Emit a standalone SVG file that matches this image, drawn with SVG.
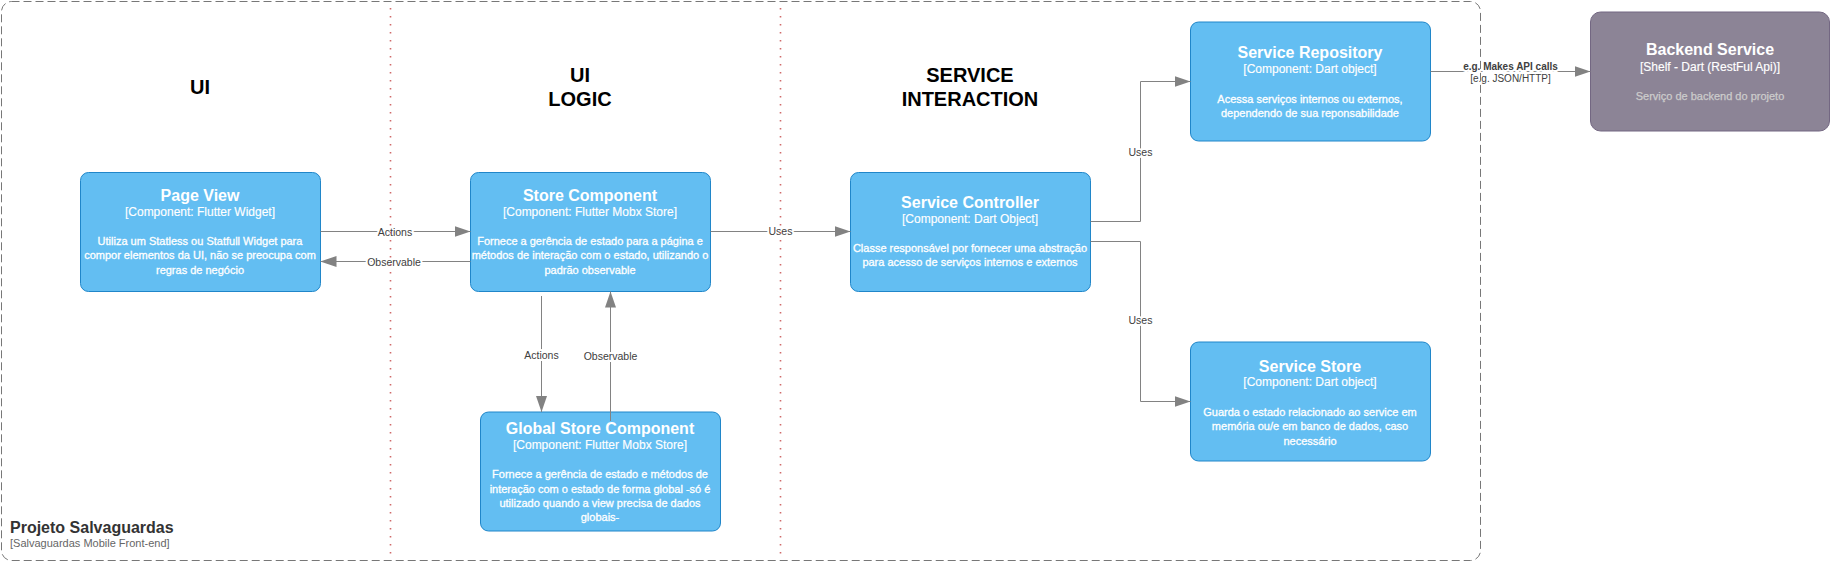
<svg xmlns="http://www.w3.org/2000/svg" width="1831" height="564" viewBox="0 0 1831 564">
<style>
text{font-family:"Liberation Sans",Arial,Helvetica,sans-serif}
.box{fill:#63BEF2;stroke:#2086C9;stroke-width:1}
.ext{fill:#8C8496;stroke:#736782;stroke-width:1}
.t{font-size:16px;font-weight:bold;fill:#fff;text-anchor:middle}
.s{font-size:12px;fill:#fff;text-anchor:middle;stroke:#fff;stroke-width:0.15}
.d{font-size:11px;fill:#fff;text-anchor:middle;stroke:#fff;stroke-width:0.3}
.dx{font-size:11px;fill:#cccccc;text-anchor:middle;stroke:#cccccc;stroke-width:0.25}
.h{font-size:20px;font-weight:bold;fill:#000;text-anchor:middle}
.ln{fill:none;stroke:#828282;stroke-width:1}
.lb{font-size:10.5px;fill:#404040;text-anchor:middle;paint-order:stroke;stroke:#fff;stroke-width:4;stroke-linejoin:round}
.lbb{font-size:10px;font-weight:bold;fill:#404040;text-anchor:middle;paint-order:stroke;stroke:#fff;stroke-width:4;stroke-linejoin:round}
.lbs{font-size:10px;fill:#404040;text-anchor:middle;paint-order:stroke;stroke:#fff;stroke-width:4;stroke-linejoin:round}
.div{stroke:#d06a6a;stroke-width:1.6;stroke-dasharray:1.6 6.4;fill:none}
.bnd{fill:none;stroke:#777;stroke-width:1;stroke-dasharray:8 4}
</style>
<defs>
<marker id="arr" markerUnits="userSpaceOnUse" markerWidth="16" markerHeight="11" refX="16" refY="5.5" orient="auto"><path d="M0,0 L16,5.5 L0,11 z" fill="#828282"/></marker>
</defs>
<rect width="1831" height="564" fill="#fff"/>

<g id="headers">
<text class="h" x="200" y="94">UI</text>
<text class="h" x="580" y="81.5">UI</text>
<text class="h" x="580" y="105.8">LOGIC</text>
<text class="h" x="970" y="81.5">SERVICE</text>
<text class="h" x="970" y="105.8">INTERACTION</text>
</g>

<g id="page-view">
<rect class="box" x="80.5" y="172.5" width="240" height="119" rx="8"/>
<text class="t" x="200" y="201">Page View</text>
<text class="s" x="200" y="216">[Component: Flutter Widget]</text>
<text class="d" x="200" y="245">Utiliza um Statless ou Statfull Widget para</text>
<text class="d" x="200" y="259">compor elementos da UI, não se preocupa com</text>
<text class="d" x="200" y="273.5">regras de negócio</text>
</g>

<g id="store-component">
<rect class="box" x="470.5" y="172.5" width="240" height="119" rx="8"/>
<text class="t" x="590" y="201">Store Component</text>
<text class="s" x="590" y="216">[Component: Flutter Mobx Store]</text>
<text class="d" x="590" y="245">Fornece a gerência de estado para a página e</text>
<text class="d" x="590" y="259">métodos de interação com o estado, utilizando o</text>
<text class="d" x="590" y="273.5">padrão observable</text>
</g>

<g id="global-store-component">
<rect class="box" x="480.5" y="412" width="240" height="119" rx="8"/>
<text class="t" x="600" y="434">Global Store Component</text>
<text class="s" x="600" y="449">[Component: Flutter Mobx Store]</text>
<text class="d" x="600" y="478">Fornece a gerência de estado e métodos de</text>
<text class="d" x="600" y="492.5">interação com o estado de forma global -só é</text>
<text class="d" x="600" y="506.5">utilizado quando a view precisa de dados</text>
<text class="d" x="600" y="521">globais-</text>
</g>

<g id="service-controller">
<rect class="box" x="850.5" y="172.5" width="240" height="119" rx="8"/>
<text class="t" x="970" y="208">Service Controller</text>
<text class="s" x="970" y="223">[Component: Dart Object]</text>
<text class="d" x="970" y="252">Classe responsável por fornecer uma abstração</text>
<text class="d" x="970" y="266">para acesso de serviços internos e externos</text>
</g>

<g id="service-repository">
<rect class="box" x="1190.5" y="22" width="240" height="119" rx="8"/>
<text class="t" x="1310" y="58">Service Repository</text>
<text class="s" x="1310" y="73">[Component: Dart object]</text>
<text class="d" x="1310" y="102.5">Acessa serviços internos ou externos,</text>
<text class="d" x="1310" y="116.5">dependendo de sua reponsabilidade</text>
</g>

<g id="service-store">
<rect class="box" x="1190.5" y="342" width="240" height="119" rx="8"/>
<text class="t" x="1310" y="371.5">Service Store</text>
<text class="s" x="1310" y="386">[Component: Dart object]</text>
<text class="d" x="1310" y="415.5">Guarda o estado relacionado ao service em</text>
<text class="d" x="1310" y="430">memória ou/e em banco de dados, caso</text>
<text class="d" x="1310" y="444.5">necessário</text>
</g>

<g id="backend-service">
<rect class="ext" x="1590.5" y="12" width="239" height="119" rx="10"/>
<text class="t" x="1710" y="55">Backend Service</text>
<text class="s" x="1710" y="71">[Shelf - Dart (RestFul Api)]</text>
<text class="dx" x="1710" y="100">Serviço de backend do projeto</text>
</g>

<g id="connectors">
<path class="ln" d="M320.5,231.5 H470.5" marker-end="url(#arr)"/>
<text class="lb" x="395" y="235.5">Actions</text>
<path class="ln" d="M470.5,261.5 H320.5" marker-end="url(#arr)"/>
<text class="lb" x="394" y="265.5">Observable</text>
<path class="ln" d="M710.5,231.5 H850.5" marker-end="url(#arr)"/>
<text class="lb" x="780.5" y="235">Uses</text>
<path class="ln" d="M541.5,296 V412" marker-end="url(#arr)"/>
<text class="lb" x="541.5" y="358.5">Actions</text>
<path class="ln" d="M610.5,421 V291.5" marker-end="url(#arr)"/>
<text class="lb" x="610.5" y="359.5">Observable</text>
<path class="ln" d="M1090.5,221.5 H1140.5 V81.5 H1190.5" marker-end="url(#arr)"/>
<text class="lb" x="1140.5" y="155.5">Uses</text>
<path class="ln" d="M1090.5,241.5 H1140.5 V401.5 H1190.5" marker-end="url(#arr)"/>
<text class="lb" x="1140.5" y="323.5">Uses</text>
<path class="ln" d="M1430.5,71.5 H1590.5" marker-end="url(#arr)"/>
<text class="lbb" x="1510.5" y="69.5">e.g. Makes API calls</text>
<text class="lbs" x="1510.5" y="81.5">[e.g. JSON/HTTP]</text>
</g>

<g id="boundary">
<rect class="bnd" x="1.5" y="1.5" width="1479" height="559" rx="10"/>
<text x="10" y="533" style="font-size:16px;font-weight:bold;fill:#333">Projeto Salvaguardas</text>
<text x="10" y="547" style="font-size:11px;fill:#666">[Salvaguardas Mobile Front-end]</text>
</g>

<g id="dividers">
<line class="div" x1="390.5" y1="8" x2="390.5" y2="560"/>
<line class="div" x1="780.5" y1="8" x2="780.5" y2="560"/>
</g>
</svg>
